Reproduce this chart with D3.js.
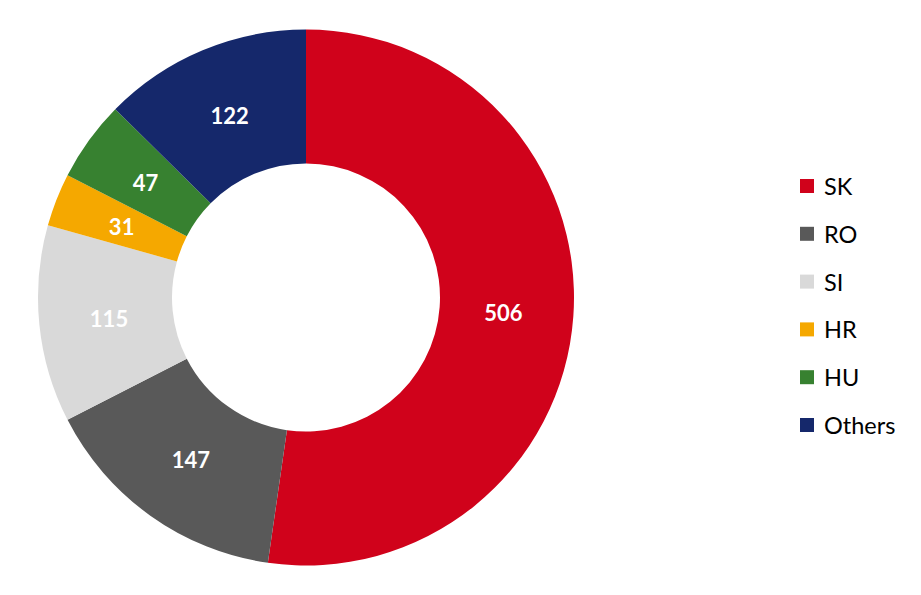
<!DOCTYPE html>
<html>
<head>
<meta charset="utf-8">
<script src="https://cdn.jsdelivr.net/npm/d3@7"></script>
<style>
  body { margin: 0; background: #fff; }
  svg { display: block; font-family: Lato, "Open Sans", sans-serif; }
</style>
</head>
<body>
<svg id="chart" width="921" height="595"></svg>
<script>
// data
let categories = ["SK", "RO", "SI", "HR", "HU", "Others"];
let values = [506, 147, 115, 31, 47, 122];
let colors = ["#d0021b", "#595959", "#d9d9d9", "#f5a800", "#378130", "#15286b"];

let svg = d3.select("#chart");

let cx = 306, cy = 297.5,
    outerR = 268, innerR = 134,
    labelR = 198;

let data = categories.map((c, i) => ({name: c, value: values[i], color: colors[i]}));

let pie = d3.pie()
    .sort(null)
    .value(d => d.value);

let arc = d3.arc()
    .innerRadius(innerR)
    .outerRadius(outerR);

let labelArc = d3.arc()
    .innerRadius(labelR)
    .outerRadius(labelR);

let g = svg.append("g")
    .attr("transform", "translate(" + cx + "," + cy + ")");

let arcs = pie(data);

g.selectAll("path.slice")
    .data(arcs)
    .enter().append("path")
    .attr("class", "slice")
    .attr("fill", d => d.data.color)
    .attr("d", arc);

g.selectAll("text.lab")
    .data(arcs)
    .enter().append("text")
    .attr("class", "lab")
    .attr("transform", d => {
        let c = labelArc.centroid(d);
        return "translate(" + c[0] + "," + (c[1] + 1) + ")";
    })
    .attr("text-anchor", "middle")
    .attr("dominant-baseline", "central")
    .attr("fill", "#fff")
    .attr("font-weight", "bold")
    .attr("font-size", 22)
    .text(d => d.data.value);

// legend
let legendX = 800, legendY = 186, rowH = 47.8, box = 14;

let legend = svg.append("g")
    .attr("transform", "translate(" + legendX + "," + legendY + ")");

let rows = legend.selectAll("g.row")
    .data(data)
    .enter().append("g")
    .attr("class", "row")
    .attr("transform", (d, i) => "translate(0," + (i * rowH) + ")");

rows.append("rect")
    .attr("x", 0)
    .attr("y", -box / 2)
    .attr("width", box)
    .attr("height", box)
    .attr("fill", d => d.color);

rows.append("text")
    .attr("x", 24)
    .attr("y", 0)
    .attr("dominant-baseline", "central")
    .attr("font-size", 23.5)
    .attr("fill", "#000")
    .text(d => d.name);
</script>
</body>
</html>
